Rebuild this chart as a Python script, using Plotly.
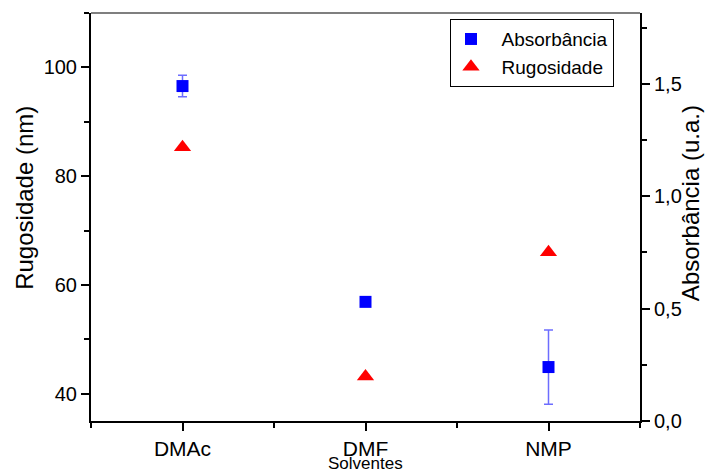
import plotly.graph_objects as go

solvents = ["DMAc", "DMF", "NMP"]
x_pos = [0, 1, 2]
absorbance = [1.49, 0.53, 0.24]
absorbance_err = [0.048, 0.01, 0.165]
roughness = [85.3, 43.2, 66.0]

FONT = "Liberation Sans, Arial, sans-serif"
NB = "\u00a0\u00a0"

fig = go.Figure()
fig.add_trace(go.Scatter(
    x=x_pos, y=absorbance, name=NB + "Absorbância", mode="markers",
    yaxis="y2",
    marker=dict(symbol="square", size=12, color="#0000ff"),
    error_y=dict(type="data", array=absorbance_err, visible=True,
                 color="rgba(60,60,255,0.75)", thickness=1.5, width=4.5),
))
fig.add_trace(go.Scatter(
    x=x_pos, y=roughness, name=NB + "Rugosidade", mode="markers",
    yaxis="y",
    marker=dict(symbol="triangle-up", size=15, color="#ff0000"),
))

tick_common = dict(ticks="outside", ticklen=8, tickwidth=1.5, tickcolor="#000",
                   showline=True, linecolor="#000", linewidth=2,
                   showgrid=False, zeroline=False, automargin=False)

fig.update_layout(
    width=709, height=474,
    margin=dict(l=91, r=69, t=13, b=53),
    paper_bgcolor="white", plot_bgcolor="white",
    separators=",.",
    font=dict(family=FONT, color="#000", size=20),
    showlegend=True,
    legend=dict(x=0.9526, y=0.985, xanchor="right", yanchor="top",
                bordercolor="#000", borderwidth=1, bgcolor="white",
                font=dict(size=19, family=FONT), itemwidth=30,
                tracegroupgap=0),
    xaxis=dict(range=[-0.5, 2.5], tickvals=x_pos, ticktext=solvents,
               tickfont=dict(size=21),
               minor=dict(tickvals=[-0.5, 0.5, 1.5, 2.5], ticks="outside",
                          ticklen=5, tickwidth=1.5, tickcolor="#000"),
               **tick_common),
    yaxis=dict(range=[35, 110], tick0=40, dtick=20, tickfont=dict(size=20),
               minor=dict(tick0=40, dtick=10, ticks="outside", ticklen=5,
                          tickwidth=1.5, tickcolor="#000"),
               **tick_common),
    yaxis2=dict(range=[0, 1.815], tick0=0, dtick=0.5, tickformat=".1f",
                overlaying="y", side="right", anchor="x", tickfont=dict(size=20),
                minor=dict(tick0=0, dtick=0.25, ticks="outside", ticklen=5,
                           tickwidth=1.5, tickcolor="#000"),
                **tick_common),
)

fig.add_annotation(text="Solventes", xref="x", yref="paper", x=1, y=0,
                   yanchor="bottom", yshift=-53, showarrow=False,
                   borderpad=0,
                   font=dict(size=17, family=FONT))
fig.add_annotation(text="Rugosidade (nm)", xref="paper", yref="paper",
                   x=0, y=0.547, xshift=-66, textangle=-90, showarrow=False,
                   xanchor="center", yanchor="middle",
                   font=dict(size=24, family=FONT))
fig.add_annotation(text="Absorbância (u.a.)", xref="paper", yref="paper",
                   x=1, y=0.534, xshift=50, textangle=-90, showarrow=False,
                   xanchor="center", yanchor="middle",
                   font=dict(size=24, family=FONT))
fig.add_shape(type="line", xref="paper", yref="paper", x0=0, x1=1, y0=1, y1=1,
              line=dict(color="#555", width=1.5))

fig.write_html("out.html",
               config={"displayModeBar": False},
               post_script="document.body.style.margin='0';"
                           "document.body.style.overflow='hidden';")
